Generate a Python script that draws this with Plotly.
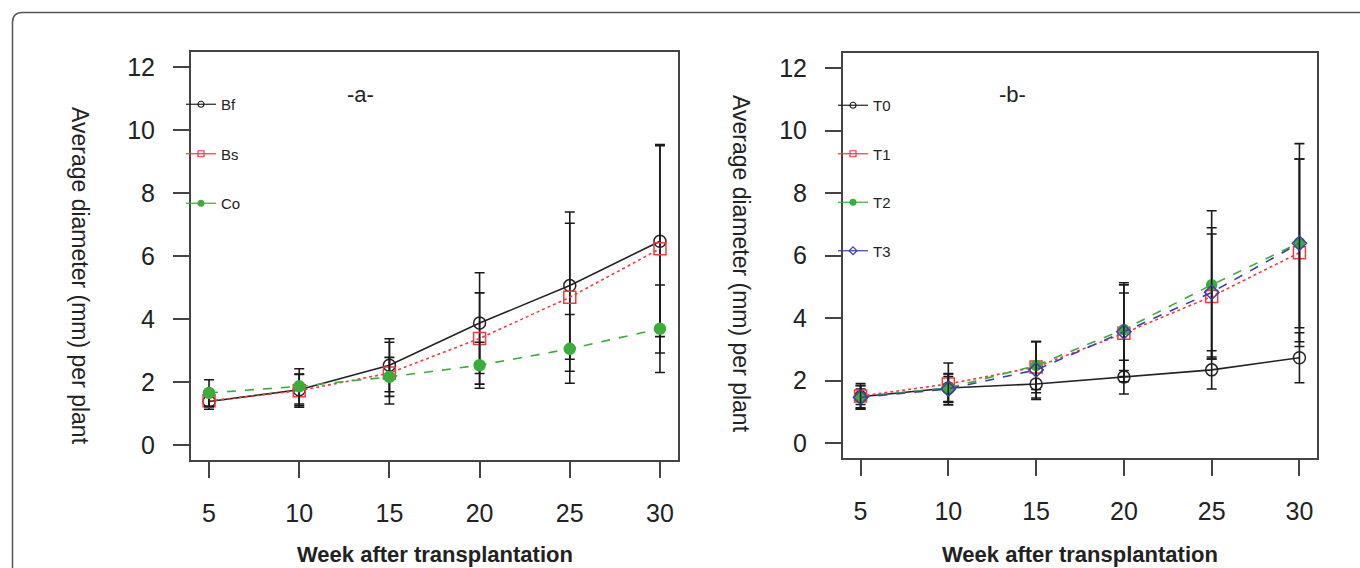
import plotly.graph_objects as go

weeks = [5, 10, 15, 20, 25, 30]

# Panel a
Bf = [1.38, 1.75, 2.53, 3.87, 5.06, 6.47]
Bf_err = [0.25, 0.50, 0.84, 1.60, 2.34, 3.03]
Bs = [1.40, 1.72, 2.28, 3.38, 4.69, 6.23]
Bs_err = [0.20, 0.52, 0.98, 1.45, 2.35, 3.31]
Co = [1.65, 1.86, 2.16, 2.53, 3.05, 3.69]
Co_err = [0.42, 0.56, 0.62, 0.73, 1.09, 1.39]

# Panel b
T0 = [1.48, 1.76, 1.89, 2.11, 2.34, 2.73]
T0_err = [0.25, 0.45, 0.50, 0.54, 0.61, 0.80]
T1 = [1.50, 1.89, 2.43, 3.51, 4.69, 6.09]
T1_err = [0.40, 0.67, 0.82, 1.55, 2.00, 3.00]
T2 = [1.48, 1.76, 2.48, 3.63, 5.06, 6.41]
T2_err = [0.35, 0.46, 0.77, 1.50, 2.37, 3.17]
T3 = [1.46, 1.73, 2.34, 3.56, 4.82, 6.39]
T3_err = [0.38, 0.40, 0.90, 1.24, 2.07, 2.70]

y_ticks = [0, 2, 4, 6, 8, 10, 12]
x_ticks = [5, 10, 15, 20, 25, 30]

W, H = 1360, 568
FONT = "Liberation Sans, Arial, sans-serif"
BLACK = "#222222"
RED = "#f23a3a"
GREEN = "#3aad3a"
BLUE = "#3a40a8"

fig = go.Figure()

def add_series(x, y, err, name, color, dash, symbol, size, xa, ya, legend):
    fig.add_trace(go.Scatter(
        x=x, y=y, mode="lines+markers", name=name, showlegend=False,
        xaxis=xa, yaxis=ya,
        line=dict(color=color, width=1.6, dash=dash),
        marker=dict(symbol=symbol, size=size, color=color,
                    line=dict(color=color, width=1.5)),
        error_y=dict(type="data", array=err, visible=True,
                     color="#1a1a1a", thickness=1.6, width=5),
    ))
    # legend-only entry (no data)
    fig.add_trace(go.Scatter(
        x=[None], y=[None], mode="lines+markers", name=name,
        legend=legend, legendgroup=name, xaxis=xa, yaxis=ya,
        line=dict(color=color, width=1.2, dash="solid"),
        marker=dict(symbol=symbol, size=6, color=color,
                    line=dict(color=color, width=1.2)),
    ))

add_series(weeks, Bf, Bf_err, "Bf", BLACK, "solid", "circle-open", 12, "x", "y", "legend")
add_series(weeks, Bs, Bs_err, "Bs", RED, "dot", "square-open", 12, "x", "y", "legend")
add_series(weeks, Co, Co_err, "Co", GREEN, "dash", "circle", 11, "x", "y", "legend")

add_series(weeks, T0, T0_err, "T0", BLACK, "solid", "circle-open", 12, "x2", "y2", "legend2")
add_series(weeks, T1, T1_err, "T1", RED, "dot", "square-open", 12, "x2", "y2", "legend2")
add_series(weeks, T2, T2_err, "T2", GREEN, "dash", "circle", 10, "x2", "y2", "legend2")
add_series(weeks, T3, T3_err, "T3", BLUE, "dash", "diamond-open", 11, "x2", "y2", "legend2")

def px_x(p):
    return p / W

def px_y(p):
    return 1 - p / H

axis_common = dict(
    showgrid=False, zeroline=False, showline=True, mirror=True,
    linecolor="#444444", linewidth=2, ticks="outside", ticklen=16,
    tickwidth=2, tickcolor="#444444",
    tickfont=dict(family=FONT, size=25, color=BLACK),
)

fig.update_layout(
    width=W, height=H,
    margin=dict(l=0, r=0, t=0, b=0),
    paper_bgcolor="white", plot_bgcolor="white",
    xaxis=dict(domain=[px_x(191), px_x(678)], range=[4, 31],
               tickvals=x_ticks, anchor="y", ticklabelstandoff=14, **axis_common),
    yaxis=dict(domain=[px_y(460), px_y(52)], range=[-0.48, 12.48],
               tickvals=y_ticks, anchor="x", ticklabelstandoff=13, **axis_common),
    xaxis2=dict(domain=[px_x(843), px_x(1317)], range=[4, 31],
                tickvals=x_ticks, anchor="y2", ticklabelstandoff=14, **axis_common),
    yaxis2=dict(domain=[px_y(458), px_y(53)], range=[-0.48, 12.48],
                tickvals=y_ticks, anchor="x2", ticklabelstandoff=13, **axis_common),
    legend=dict(x=px_x(181), y=px_y(88), xanchor="left", yanchor="top",
                bgcolor="rgba(0,0,0,0)", font=dict(family=FONT, size=15, color=BLACK),
                tracegroupgap=27, itemwidth=30),
    legend2=dict(x=px_x(833), y=px_y(89), xanchor="left", yanchor="top",
                 bgcolor="rgba(0,0,0,0)", font=dict(family=FONT, size=15, color=BLACK),
                 tracegroupgap=26, itemwidth=30),
    showlegend=True,
)

ann_font = dict(family=FONT, color=BLACK)
annotations = [
    dict(text="-a-", x=px_x(360), y=px_y(95), font=dict(size=22, **ann_font)),
    dict(text="-b-", x=px_x(1012), y=px_y(95), font=dict(size=22, **ann_font)),
    dict(text="<b>Week after transplantation</b>", x=px_x(435), y=px_y(554),
         font=dict(size=22, **ann_font)),
    dict(text="<b>Week after transplantation</b>", x=px_x(1080), y=px_y(554),
         font=dict(size=22, **ann_font)),
    dict(text="Average diameter (mm) per plant", x=px_x(80), y=px_y(276),
         textangle=90, font=dict(size=23, **ann_font)),
    dict(text="Average diameter (mm) per plant", x=px_x(741), y=px_y(264),
         textangle=90, font=dict(size=23, **ann_font)),
]
for a in annotations:
    a.update(xref="paper", yref="paper", showarrow=False,
             xanchor="center", yanchor="middle")
fig.update_layout(annotations=annotations)

# outer rounded frame of the figure panel
x0, y0, r = px_x(12.5), px_y(12.5), 10
fig.add_shape(
    type="path", xref="paper", yref="paper",
    path=(f"M {px_x(1380)},{y0} L {px_x(12.5 + r)},{y0} "
          f"Q {x0},{y0} {x0},{px_y(12.5 + r)} L {x0},{px_y(590)}"),
    line=dict(color="#555555", width=1.5),
)

fig.write_html("out.html")
